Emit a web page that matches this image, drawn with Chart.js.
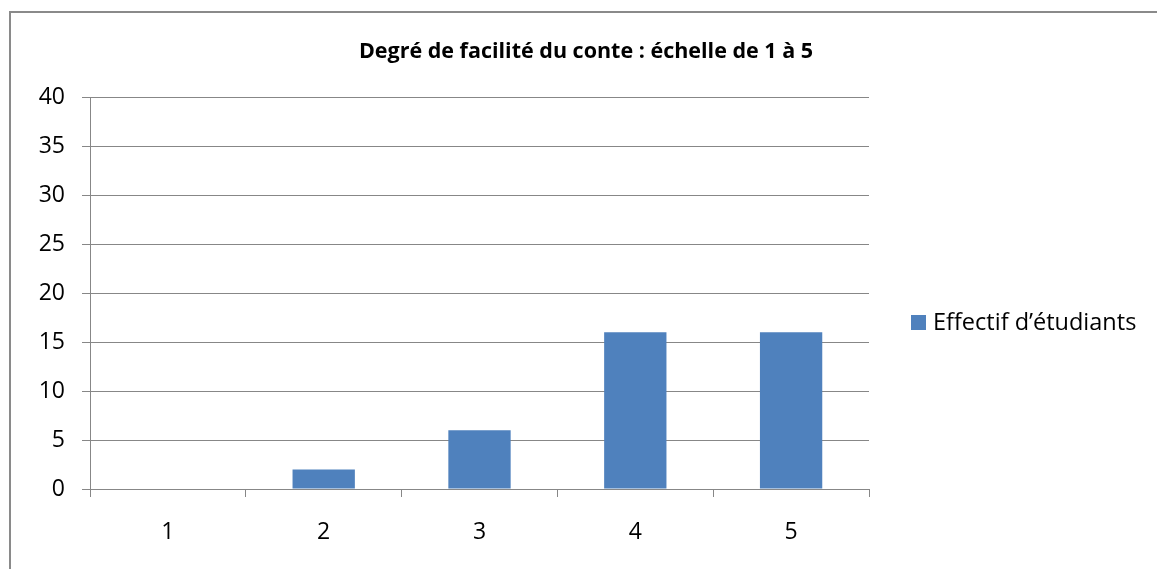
<!DOCTYPE html>
<html>
<head>
<meta charset="utf-8">
<script src="https://cdn.jsdelivr.net/npm/chart.js@4.4.1/dist/chart.umd.min.js"></script>
<style>
  html, body { margin: 0; padding: 0; background: #fff; }
  body { width: 1157px; height: 569px; position: relative; overflow: hidden; font-family: 'Open Sans', sans-serif; }
  #frame { position: absolute; left: 9px; top: 11px; width: 1200px; height: 600px;
           border-left: 2px solid #8a8a8a; border-top: 2px solid #8a8a8a; }
  #wrap { position: absolute; left: 0; top: 0; width: 1157px; height: 569px; }
  #title { position: absolute; left: 286px; width: 600px; top: 35px; text-align: center;
           font-weight: bold; font-size: 21.5px; color: #000; white-space: nowrap; }
  #legend { position: absolute; left: 911px; top: 305px; font-size: 23.5px; color: #000; white-space: nowrap; }
  #legend .sw { display: inline-block; width: 15px; height: 15px; background: #4F81BD; margin-right: 7px; vertical-align: 0px; }
</style>
</head>
<body>
<div id="frame"></div>
<div id="wrap"><canvas id="chart" width="1157" height="569"></canvas></div>
<div id="title"></div>
<div id="legend"><span class="sw"></span><span id="legendText"></span></div>
<script>
// values
const chartTitle = 'Degré de facilité du conte : échelle de 1 à 5';
const seriesName = 'Effectif d’étudiants';
const categories = ['1', '2', '3', '4', '5'];
const effectifs = [0, 2, 6, 16, 16];
const yTicks = [0, 5, 10, 15, 20, 25, 30, 35, 40];

const barColor = '#4F81BD';
const gridColor = '#878787';
const tickFont = { family: "'Open Sans', sans-serif", size: 23 };

document.getElementById('title').textContent = chartTitle;
document.getElementById('legendText').textContent = seriesName;

new Chart(document.getElementById('chart'), {
  type: 'bar',
  data: {
    labels: categories,
    datasets: [{
      label: seriesName,
      data: effectifs,
      backgroundColor: barColor,
      borderWidth: 0,
      barPercentage: 0.4,
      categoryPercentage: 1,
    }]
  },
  options: {
    responsive: false,
    animation: false,
    layout: { padding: { left: 0, right: 288, top: 97, bottom: 0 } },
    plugins: {
      legend: { display: false },
      tooltip: { enabled: false },
    },
    scales: {
      y: {
        min: yTicks[0],
        max: yTicks[yTicks.length - 1],
        afterBuildTicks: (scale) => { scale.ticks = yTicks.map(v => ({ value: v })); },
        afterFit: (scale) => { scale.width = 90; },
        grid: { color: gridColor, lineWidth: 1, tickLength: 8, drawTicks: true },
        border: { color: gridColor, width: 1 },
        ticks: { color: '#000', font: tickFont, padding: 17 },
      },
      x: {
        afterFit: (scale) => { scale.height = 80; },
        grid: { color: gridColor, lineWidth: 1, tickLength: 8, drawOnChartArea: false, offset: true },
        border: { color: gridColor, width: 1 },
        ticks: { color: '#000', font: tickFont, padding: 22 },
      }
    }
  }
});
</script>
</body>
</html>
